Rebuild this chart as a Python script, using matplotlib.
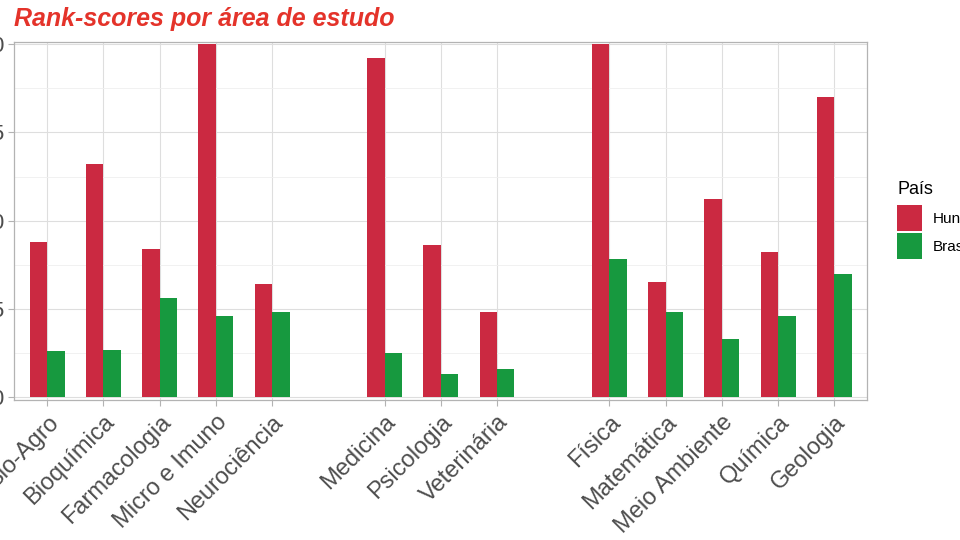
import matplotlib
matplotlib.use("Agg")
import matplotlib.pyplot as plt
from matplotlib.patches import Patch
from matplotlib.ticker import MultipleLocator

plt.rcParams['font.family'] = ['Liberation Sans', 'DejaVu Sans']

categories = ["Bio-Agro", "Bioquímica", "Farmacologia", "Micro e Imuno", "Neurociência",
              "Medicina", "Psicologia", "Veterinária",
              "Física", "Matemática", "Meio Ambiente", "Química", "Geologia"]
slots = [0, 1, 2, 3, 4, 6, 7, 8, 10, 11, 12, 13, 14]
hungria = [0.44, 0.66, 0.42, 1.00, 0.32, 0.96, 0.43, 0.24, 1.00, 0.325, 0.56, 0.41, 0.85]
brasil = [0.13, 0.135, 0.28, 0.23, 0.24, 0.125, 0.065, 0.08, 0.39, 0.24, 0.165, 0.23, 0.35]
series_names = ["Hungria", "Brasil"]
yticks = [0.0, 0.25, 0.5, 0.75, 1.0]
ytick_labels = ["0.00", "0.25", "0.50", "0.75", "1.00"]

red = "#cb2941"
green = "#17993f"

fig = plt.figure(figsize=(9.6, 5.4), dpi=100)
ax = fig.add_axes([14/960, 1 - 400/540, 853/960, 358/540])

w = 0.31
ax.bar([s - w/2 for s in slots], hungria, width=w, color=red, zorder=3)
ax.bar([s + w/2 for s in slots], brasil, width=w, color=green, zorder=3)

ax.set_xlim(-0.59, 14.58)
ax.set_ylim(-0.008, 1.006)
ax.set_xticks(slots)
ax.set_xticklabels(categories, rotation=45, ha='right', rotation_mode='anchor',
                   fontsize=17, color='#4d4d4d')
ax.set_yticks(yticks)
ax.set_yticklabels(ytick_labels, fontsize=16, color='#4d4d4d')
ax.yaxis.set_minor_locator(MultipleLocator(0.125))

ax.grid(which='major', color='#dedede', linewidth=0.8, zorder=0)
ax.grid(which='minor', axis='y', color='#efefef', linewidth=0.6, zorder=0)
ax.tick_params(axis='both', which='major', length=4, color='#b3b3b3', pad=3)
ax.tick_params(axis='x', which='major', pad=4)
ax.tick_params(axis='y', which='minor', length=0)
for sp in ax.spines.values():
    sp.set_color('#b3b3b3')
    sp.set_linewidth(0.9)
ax.set_axisbelow(True)

fig.text(14/960, 1 - 19/540, "Rank-scores por área de estudo", fontsize=18,
         fontweight='bold', fontstyle='italic', color='#e4332a', va='center', ha='left')

handles = [Patch(facecolor=red, edgecolor='none'), Patch(facecolor=green, edgecolor='none')]
leg = fig.legend(handles, series_names, title="País", loc='upper left',
                 bbox_to_anchor=(891/960, 1 - 175/540), frameon=False,
                 fontsize=11, title_fontsize=13, handlelength=1.65, handleheight=2.2,
                 handletextpad=0.7, labelspacing=0.15, borderaxespad=0)
leg._legend_box.align = "left"
leg._legend_box.sep = 5

fig.savefig("out.png", dpi=100)
